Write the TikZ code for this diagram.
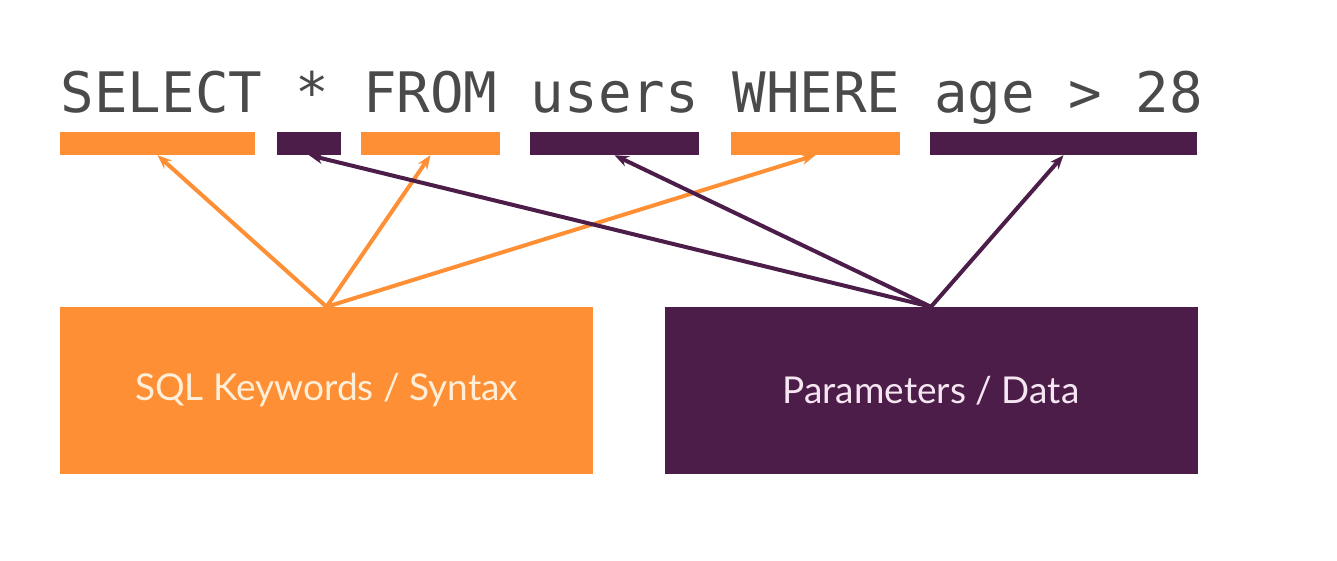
\documentclass[tikz,border=0pt]{standalone}
\usepackage{fontspec}
\setmainfont{Lato}
\setmonofont{DejaVu Sans Mono}
\usetikzlibrary{arrows.meta}
\definecolor{sqlorange}{HTML}{FE8F34}
\definecolor{sqlpurple}{HTML}{4B1D48}
\definecolor{codegray}{HTML}{4A4A4A}
\definecolor{creamtext}{HTML}{FFEFD9}
\definecolor{pinktext}{HTML}{F5E6F2}
\tikzset{
  bar/.style={rectangle, inner sep=0pt, minimum height=23pt},
  group/.style={rectangle, inner sep=0pt, minimum width=533pt, minimum height=167pt, font=\fontsize{37}{44}\selectfont},
  link/.style={line width=4pt, -{Stealth[length=14pt,width=11pt]}}
}
\begin{document}
\begin{tikzpicture}[x=1pt,y=-1pt]
        \useasboundingbox[fill=white] (0,0) rectangle (1337,560);

        %query
        \node[anchor=base west, inner sep=0pt, text=codegray, font=\ttfamily\fontsize{55.8}{60}\selectfont] (query) at (60.5,112) {SELECT * FROM users WHERE age > 28};

        %bars under the query
        \node[bar, fill=sqlorange, minimum width=195pt] (select) at (157.5,143.5) {};
        \node[bar, fill=sqlpurple, minimum width=64pt] (star) at (309,143.5) {};
        \node[bar, fill=sqlorange, minimum width=139pt] (from) at (430.5,143.5) {};
        \node[bar, fill=sqlpurple, minimum width=169pt] (users) at (614.5,143.5) {};
        \node[bar, fill=sqlorange, minimum width=169pt] (where) at (815.5,143.5) {};
        \node[bar, fill=sqlpurple, minimum width=267pt] (cond) at (1063.5,143.5) {};

        %groups
        \node[group, fill=sqlorange, text=creamtext] (keywords) at (326.5,390.5) {SQL Keywords / Syntax};
        \node[group, fill=sqlpurple, text=pinktext] (params) at (931,390.5) {Parameters / Data};

        %arrows
        \draw[link, sqlorange] (keywords.north) -- (select.south);
        \draw[link, sqlorange] (keywords.north) -- (from.south);
        \draw[link, sqlorange] (keywords.north) -- (where.south);

        \draw[link, sqlpurple] (params.north) -- (star.south);
        \draw[link, sqlpurple] (params.north) -- (users.south);
        \draw[link, sqlpurple] (params.north) -- (cond.south);
\end{tikzpicture}
\end{document}
